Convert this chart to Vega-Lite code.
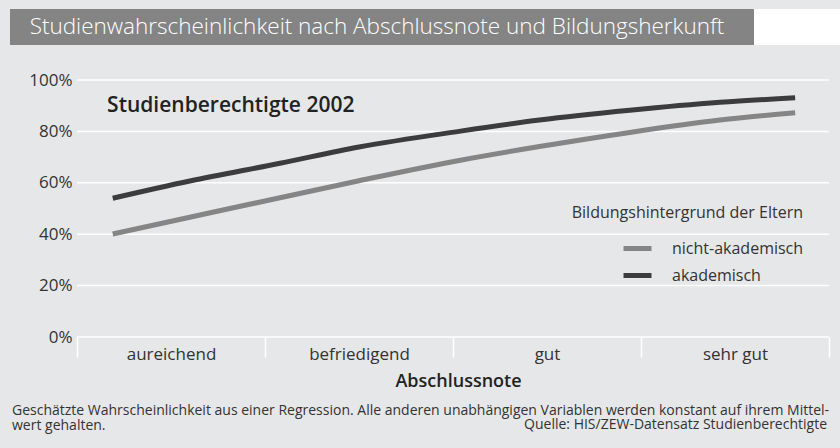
{
  "$schema": "https://vega.github.io/schema/vega-lite/v6.json",
  "background": "#e6e7e8",
  "padding": {"left": 10, "top": 9, "right": 20, "bottom": 30},
  "config": {
    "font": "Open Sans",
    "view": {"stroke": null}
  },
  "title": {
    "text": "Quelle: HIS/ZEW-Datensatz Studienberechtigte",
    "orient": "bottom",
    "anchor": "end",
    "frame": "bounds",
    "fontSize": 14,
    "fontWeight": "normal",
    "color": "#333333",
    "offset": -15,
    "dx": -13
  },
  "spacing": 26,
  "resolve": {"legend": {"color": "independent"}},
  "vconcat": [
    {
      "spacing": 0,
      "hconcat": [
        {
          "width": 744,
          "height": 36,
          "view": {"fill": "#848484", "stroke": null},
          "data": {"values": [{"t": "Studienwahrscheinlichkeit nach Abschlussnote und Bildungsherkunft"}]},
          "mark": {"type": "text", "color": "white", "fontSize": 22.5, "fontWeight": 300, "font": "Open Sans", "dx": -5},
          "encoding": {"text": {"field": "t"}}
        },
        {
          "width": 86,
          "height": 36,
          "view": {"fill": "white", "stroke": null},
          "data": {"values": [{"t": ""}]},
          "mark": {"type": "text"},
          "encoding": {"text": {"field": "t"}}
        }
      ]
    },
    {
      "width": 819,
      "height": 257,
      "title": {
        "text": ["Geschätzte Wahrscheinlichkeit aus einer Regression. Alle anderen unabhängigen Variablen werden konstant auf ihrem Mittel-", "wert gehalten."],
        "orient": "bottom",
        "anchor": "start",
        "frame": "group",
        "fontSize": 14,
        "fontWeight": "normal",
        "color": "#333333",
        "lineHeight": 15,
        "offset": 14,
        "dx": 2
      },
      "encoding": {
        "x": {
          "type": "quantitative",
          "scale": {"domain": [-0.3564, 4], "nice": false, "zero": false},
          "axis": {
            "values": [0, 0.5, 1, 1.5, 2, 2.5, 3, 3.5, 4],
            "labelExpr": "datum.value == 0.5 ? 'aureichend' : datum.value == 1.5 ? 'befriedigend' : datum.value == 2.5 ? 'gut' : datum.value == 3.5 ? 'sehr gut' : ''",
            "tickOpacity": {"condition": {"test": "datum.value % 1 == 0", "value": 1}, "value": 0},
            "tickColor": "white",
            "tickSize": 20,
            "tickWidth": 1.5,
            "domain": false,
            "grid": false,
            "labelPadding": -11,
            "labelFontSize": 17,
            "labelColor": "#333333",
            "labelFlush": false,
            "labelOverlap": false,
            "title": "Abschlussnote",
            "titleX": 448,
            "titleFontSize": 18,
            "titleFontWeight": 600,
            "titleColor": "#222222",
            "titlePadding": 10
          }
        },
        "y": {
          "type": "quantitative",
          "scale": {"domain": [0, 100], "nice": false},
          "axis": {
            "values": [0, 20, 40, 60, 80, 100],
            "labelExpr": "datum.value + '%'",
            "domain": false,
            "ticks": false,
            "grid": false,
            "labelAlign": "right",
            "labelFontSize": 17,
            "labelColor": "#333333",
            "labelPadding": -62,
            "title": null
          }
        }
      },
      "layer": [
        {
          "data": {"values": [{"g": 0}, {"g": 20}, {"g": 40}, {"g": 60}, {"g": 80}, {"g": 100}]},
          "mark": {"type": "rule", "color": "white", "strokeWidth": 1.5},
          "encoding": {
            "x": {"datum": 0},
            "x2": {"datum": 4},
            "y": {"field": "g"}
          }
        },
        {
          "data": {"values": [
            {"note": 0.19, "p": 40.1, "gruppe": "nicht-akademisch"},
            {"note": 0.6, "p": 46.6, "gruppe": "nicht-akademisch"},
            {"note": 1.08, "p": 54.2, "gruppe": "nicht-akademisch"},
            {"note": 1.5, "p": 60.8, "gruppe": "nicht-akademisch"},
            {"note": 2.04, "p": 68.8, "gruppe": "nicht-akademisch"},
            {"note": 2.46, "p": 74.1, "gruppe": "nicht-akademisch"},
            {"note": 2.94, "p": 79.6, "gruppe": "nicht-akademisch"},
            {"note": 3.42, "p": 84.4, "gruppe": "nicht-akademisch"},
            {"note": 3.82, "p": 87.3, "gruppe": "nicht-akademisch"},
            {"note": 0.19, "p": 54.0, "gruppe": "akademisch"},
            {"note": 0.6, "p": 60.7, "gruppe": "akademisch"},
            {"note": 1.08, "p": 67.6, "gruppe": "akademisch"},
            {"note": 1.5, "p": 73.9, "gruppe": "akademisch"},
            {"note": 2.04, "p": 80.1, "gruppe": "akademisch"},
            {"note": 2.46, "p": 84.4, "gruppe": "akademisch"},
            {"note": 2.94, "p": 88.2, "gruppe": "akademisch"},
            {"note": 3.42, "p": 91.3, "gruppe": "akademisch"},
            {"note": 3.82, "p": 93.1, "gruppe": "akademisch"}
          ]},
          "mark": {"type": "line", "strokeWidth": 5, "interpolate": "monotone", "strokeCap": "butt"},
          "encoding": {
            "x": {"field": "note"},
            "y": {"field": "p"},
            "color": {
              "field": "gruppe", "type": "nominal",
              "scale": {"domain": ["nicht-akademisch", "akademisch"], "range": ["#858585", "#3c3c3e"]},
              "legend": {
                "title": "Bildungshintergrund der Eltern",
                "orient": "none",
                "legendX": 562,
                "legendY": 125,
                "titleAnchor": "end",
                "titleLimit": 400,
                "titleFontSize": 16,
                "titleFontWeight": "normal",
                "titleColor": "#333333",
                "titlePadding": 11,
                "labelFontSize": 16,
                "labelColor": "#333333",
                "labelOffset": 18,
                "labelLimit": 300,
                "symbolType": "stroke",
                "symbolSize": 784,
                "symbolStrokeWidth": 5,
                "rowPadding": -13,
                "padding": 0
              }
            }
          }
        },
        {
          "data": {"values": [{"note": 0.16, "p": 90, "label": "Studienberechtigte 2002"}]},
          "mark": {"type": "text", "align": "left", "baseline": "middle", "fontSize": 21, "fontWeight": 600, "color": "#222222"},
          "encoding": {
            "x": {"field": "note"},
            "y": {"field": "p"},
            "text": {"field": "label"}
          }
        }
      ]
    }
  ]
}
